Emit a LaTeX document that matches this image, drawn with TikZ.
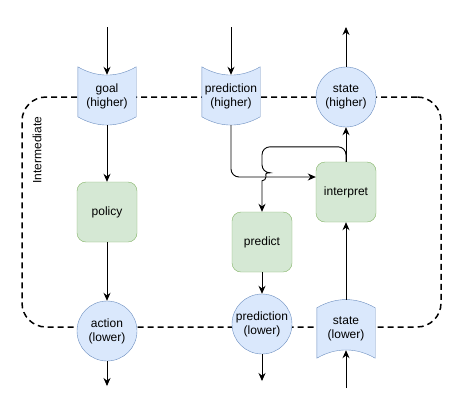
\documentclass[tikz,border=0pt]{standalone}
\usepackage{fontspec}
\setmainfont{Liberation Sans}
\usetikzlibrary{arrows.meta,calc,backgrounds}
\definecolor{bluefill}{HTML}{DAE8FC}
\definecolor{blueline}{HTML}{6C8EBF}
\definecolor{grnfill}{HTML}{D5E8D4}
\definecolor{grnline}{HTML}{82B366}
\tikzset{
  blk/.style={draw=grnline, fill=grnfill, rounded corners=9pt, minimum width=60pt, minimum height=60pt, inner sep=0pt},
  circ/.style={circle, draw=blueline, fill=bluefill, minimum size=60pt, inner sep=0pt, align=center},
  tapebox/.style={minimum width=58pt, minimum height=58pt, inner sep=0pt, align=center},
  tapeline/.style={draw=blueline, fill=bluefill},
  arr/.style={-{Stealth[length=8pt,width=7pt]}, line width=0.9pt},
  group/.style={draw, dash pattern=on 6pt off 4pt, line width=1.5pt, rounded corners=24pt, minimum width=419pt, minimum height=230pt}
}
\newcommand{\tapedown}[1]{\filldraw[tapeline] (#1.north west) .. controls ($(#1.north west)+(19,11)$) and ($(#1.north east)+(-19,11)$) .. (#1.north east) -- ($(#1.north east)+(0,50)$) .. controls ($(#1.north east)+(-19,61)$) and ($(#1.north west)+(19,61)$) .. ($(#1.north west)+(0,50)$) -- cycle;}
\newcommand{\tapeup}[1]{\filldraw[tapeline] ($(#1.north west)+(0,8)$) .. controls ($(#1.north west)+(19,-3)$) and ($(#1.north east)+(-19,-3)$) .. ($(#1.north east)+(0,8)$) -- (#1.south east) .. controls ($(#1.south east)+(-19,-11)$) and ($(#1.south west)+(19,-11)$) .. (#1.south west) -- cycle;}
\begin{document}
\begin{tikzpicture}[x=1pt, y=-1pt, font=\fontsize{12}{14}\selectfont]
\useasboundingbox (0,0) rectangle (462,416);

\node[tapebox] (goal) at (107,96) {goal\\(higher)};
\node[tapebox] (predhigh) at (231,96) {prediction\\(higher)};
\node[circ] (statehigh) at (346,97) {state\\(higher)};

\node[blk] (policy) at (107,212) {policy};
\node[blk] (interpret) at (346,192) {interpret};
\node[blk] (predict) at (262,242) {predict};

\node[circ] (action) at (107,331) {action\\(lower)};
\node[circ] (predlow) at (262,324) {prediction\\(lower)};
\node[tapebox] (statelow) at (346,329) {state\\(lower)};

\begin{scope}[on background layer]
  \node[group] (inter) at (231.5,212) {};
  \tapedown{goal}
  \tapedown{predhigh}
  \tapeup{statelow}
\end{scope}
\node[rotate=90] (interlabel) at (37,150) {Intermediate};

\coordinate (goalin) at (107,27);
\coordinate (predin) at (231,27);
\coordinate (stateout) at (346,27);
\coordinate (actionout) at (107,386);
\coordinate (predout) at (262,381);
\coordinate (statein) at (346,388);
\coordinate (intin) at ($(interpret.west)+(0,-15)$);

\draw[arr] (goalin) -- ([yshift=-8pt]goal.north);
\draw[arr] (goal.south) -- (policy.north);
\draw[arr] (policy) -- (action);
\draw[arr] (action) -- (actionout);

\draw[arr] (predin) -- ([yshift=-8pt]predhigh.north);
\draw[arr, rounded corners=8pt] (predhigh.south) |- (intin);
\draw[arr] (interpret.north) [rounded corners=8pt] |- ($(predict.north)+(0,-65)$) -- ($(predict.north)+(0,-39)$) [sharp corners] arc[start angle=-90, end angle=90, radius=4] -- (predict.north);
\draw[arr] (predict) -- (predlow);
\draw[arr] (predlow) -- (predout);

\draw[arr] (statein) -- ([yshift=8pt]statelow.south);
\draw[arr] (statelow.north) -- (interpret.south);
\draw[arr] (interpret) -- (statehigh);
\draw[arr] (statehigh) -- (stateout);
\end{tikzpicture}
\end{document}
